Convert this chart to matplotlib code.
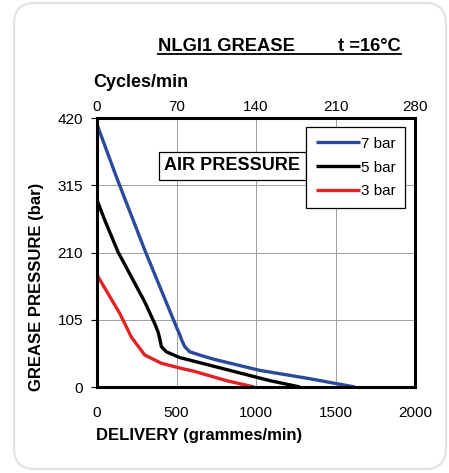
import matplotlib.pyplot as plt
from matplotlib.patches import FancyBboxPatch
from matplotlib.lines import Line2D

plt.rcParams['font.family'] = ['Liberation Sans', 'DejaVu Sans']

# delivery (grammes/min) vs grease pressure (bar)
deliv_7 = [0, 122, 300, 499, 520, 533, 552, 583, 657, 740, 1023, 1337, 1622]
press_7 = [410, 328, 214, 94, 82, 73, 63, 55, 49, 43, 26, 13, 0]
deliv_5 = [0, 48, 132, 216, 300, 363, 384, 395, 405, 436, 520, 740, 1086, 1276]
press_5 = [292, 261, 211, 172, 133, 99, 86, 75, 63, 55, 46, 32, 10, 0]
deliv_3 = [0, 69, 143, 216, 300, 405, 531, 604, 813, 988]
press_3 = [175, 146, 115, 78, 50, 37, 29, 25, 10, 0]

x_ticks = [0, 500, 1000, 1500, 2000]
y_ticks = [0, 105, 210, 315, 420]
cyc_ticks = [0, 70, 140, 210, 280]

fig = plt.figure(figsize=(4.49, 4.73), dpi=100)
W, H = 449, 473

# rounded card behind the chart
card = FancyBboxPatch((14 / W, 4 / H), 432 / W, 466 / H,
                      boxstyle="round,pad=0,rounding_size=0.045",
                      transform=fig.transFigure, facecolor='white',
                      edgecolor='#e2e2e2', linewidth=1.6, zorder=-5)
fig.patches.append(card)

ax = fig.add_axes([97 / W, 1 - 387 / H, 318 / W, 269 / H])
ax.set_facecolor('none')

ax.plot(deliv_7, press_7, color='#2b4a9b', lw=2.4, label='7 bar', solid_capstyle='butt')
ax.plot(deliv_5, press_5, color='black', lw=2.4, label='5 bar', solid_capstyle='butt')
ax.plot(deliv_3, press_3, color='#e32323', lw=2.4, label='3 bar', solid_capstyle='butt')

ax.set_xlim(0, 2000)
ax.set_ylim(0, 420)
ax.set_xticks(x_ticks)
ax.set_yticks(y_ticks)
ax.grid(True, color='#a0a0a0', lw=0.7)
ax.set_axisbelow(True)
for s in ax.spines.values():
    s.set_linewidth(2.2)
ax.tick_params(axis='x', length=0, pad=14, labelsize=11)
ax.tick_params(axis='y', length=4, width=0.8, pad=6, labelsize=11)

top = ax.twiny()
top.set_xlim(0, 280)
top.set_xticks(cyc_ticks)
top.tick_params(axis='x', length=0, pad=3, labelsize=11)
for s in top.spines.values():
    s.set_visible(False)

leg = ax.legend(loc='upper right', bbox_to_anchor=(0.967, 0.965), fontsize=11,
                handlelength=2.9, handletextpad=0.05, labelspacing=0.65,
                borderpad=0.6, borderaxespad=0, fancybox=False, framealpha=1)
leg.get_frame().set_edgecolor('black')
leg.get_frame().set_linewidth(0.9)

ax.text(0.426, 0.822, 'AIR PRESSURE', transform=ax.transAxes, ha='center', va='center',
        fontsize=13, fontweight='bold',
        bbox=dict(boxstyle='square,pad=0.3', facecolor='white', edgecolor='black', lw=0.9))

fig.text(158 / W, 1 - 51 / H, 'NLGI1 GREASE', fontsize=13.2, fontweight='bold',
         ha='left', va='baseline')
fig.text(401 / W, 1 - 51 / H, 't =16°C', fontsize=13.2, fontweight='bold',
         ha='right', va='baseline')
fig.add_artist(Line2D([158 / W, 401 / W], [1 - 54 / H, 1 - 54 / H], color='black', lw=1.3))

fig.text(93 / W, 1 - 87 / H, 'Cycles/min', fontsize=13, fontweight='bold',
         ha='left', va='baseline')
fig.text(96 / W, 1 - 435 / H, 'DELIVERY (grammes/min)', fontsize=12, fontweight='bold',
         ha='left', va='center')
fig.text(37 / W, 1 - 287 / H, 'GREASE PRESSURE (bar)', fontsize=12, fontweight='bold',
         ha='center', va='center', rotation=90)

fig.savefig('out.png', dpi=100)
